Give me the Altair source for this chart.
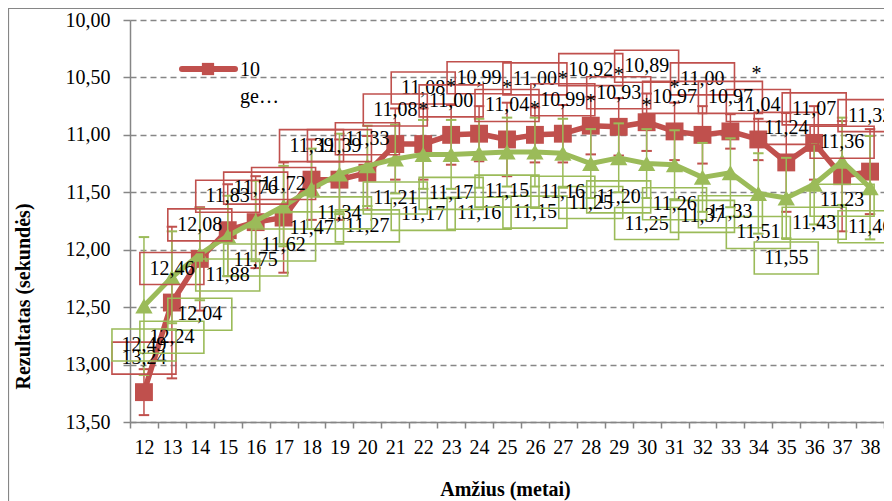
import altair as alt
import pandas as pd

# ---------------- data ----------------
ages = list(range(12, 39))
red_vals = [13.24, 12.46, 12.08, 11.83, 11.76, 11.72, 11.39, 11.39, 11.33, 11.08,
            11.08, 11.00, 10.99, 11.04, 11.00, 10.99, 10.92, 10.93, 10.89, 10.97,
            11.00, 10.97, 11.04, 11.24, 11.07, 11.36, 11.32]
green_vals = [12.49, 12.24, 12.04, 11.88, 11.75, 11.62, 11.47, 11.34, 11.27, 11.21,
              11.17, 11.17, 11.16, 11.15, 11.15, 11.16, 11.25, 11.20, 11.25, 11.26,
              11.37, 11.33, 11.51, 11.55, 11.43, 11.23, 11.46]
red_err = [0.20, 0.66, 0.45, 0.40, 0.40, 0.48, 0.35, 0.35, 0.32, 0.31,
           0.31, 0.26, 0.24, 0.32, 0.24, 0.25, 0.25, 0.25, 0.25, 0.25,
           0.25, 0.15, 0.18, 0.43, 0.32, 0.48, 0.37]
green_err = [0.60, 0.40, 0.40, 0.35, 0.35, 0.35, 0.35, 0.35, 0.35, 0.30,
             0.30, 0.30, 0.30, 0.30, 0.30, 0.30, 0.30, 0.30, 0.30, 0.30,
             0.30, 0.30, 0.35, 0.35, 0.35, 0.38, 0.45]
sig_ages = [23, 24, 26, 27, 28, 29, 30, 31, 32, 33]
legend_text = ["10", "ge…"]
y_ticks = [10.0, 10.5, 11.0, 11.5, 12.0, 12.5, 13.0, 13.5]

# ---------------- layout / style ----------------
RED = "#C0504D"
GREEN = "#9BBB59"
GRAY = "#868686"
SERIF = "Liberation Serif"
RED_HIGH_ROW = {22, 24, 26, 28, 30, 32, 38}
GREEN_LOW_ROW = {13, 14, 20, 22, 24, 26, 30, 35}
W = 754
STEP = W / 27

df = pd.DataFrame({"age": ages, "red": red_vals, "green": green_vals,
                   "red_err": red_err, "green_err": green_err})
df["red_lo"] = df["red"] - df["red_err"]
df["red_hi"] = df["red"] + df["red_err"]
df["green_lo"] = df["green"] - df["green_err"]
df["green_hi"] = df["green"] + df["green_err"]
df["red_txt"] = df["red"].map(lambda v: f"{v:.2f}".replace(".", ","))
df["green_txt"] = df["green"].map(lambda v: f"{v:.2f}".replace(".", ","))
df["star"] = "*"

xscale = alt.Scale(domain=[11.5, 38.5], nice=False, zero=False)
yscale = alt.Scale(domain=[10, 13.5], reverse=True, nice=False, zero=False)

x_axis = alt.Axis(
    values=[11.5 + i for i in range(28)],
    labelExpr="datum.value < 38 ? format(datum.value + 0.5, 'd') : ''",
    labelOffset=STEP / 2, labelFlush=False, labelOverlap=False, labelBound=False,
    tickSize=6, tickColor=GRAY, tickWidth=1.5,
    domainColor=GRAY, domainWidth=1.5, grid=False,
    labelPadding=9, labelFont=SERIF, labelFontSize=20, labelColor="black",
    title="Amžius (metai)", titleFont=SERIF, titleFontSize=20,
    titleFontWeight="bold", titleColor="black",
    titleX=375, titleY=67, titleBaseline="middle",
)
y_axis = alt.Axis(
    values=y_ticks,
    labelExpr="replace(format(datum.value, '.2f'), '.', ',')",
    tickSize=7, tickColor=GRAY, tickWidth=1.5,
    domainColor=GRAY, domainWidth=1.5,
    grid=True, gridDash=[6, 4], gridColor=GRAY, gridWidth=1.5,
    labelPadding=13, labelFont=SERIF, labelFontSize=20, labelColor="black",
    title="Rezultatas (sekundės)", titleFont=SERIF, titleFontSize=20,
    titleFontWeight="bold", titleColor="black",
    titleX=-107, titleY=276, titleBaseline="middle",
)


def X():
    return alt.X("age:Q", scale=xscale, axis=x_axis)


def Y(field):
    return alt.Y(f"{field}:Q", scale=yscale, axis=y_axis)


def box_path(dy):
    a = (dy - 16) / 10
    b = (dy + 16) / 10
    return f"M-3.2,{a}L3.2,{a}L3.2,{b}L-3.2,{b}Z"


layers = []
dummy = pd.DataFrame({"k": [0]})

# chart border
layers.append(alt.Chart(dummy).mark_rect(filled=False, color=GRAY, strokeWidth=1.2).encode(
    x=alt.value(-121.5), x2=alt.value(900), y=alt.value(-11.5), y2=alt.value(600)))


def series_layers(col, color, shape, size, lw):
    out = []
    base = alt.Chart(df)
    out.append(base.mark_rule(color=color, strokeWidth=1.5).encode(
        x=X(), y=Y(f"{col}_lo"), y2=f"{col}_hi:Q"))
    for end in ("lo", "hi"):
        out.append(base.mark_point(shape="stroke", size=110, strokeWidth=2,
                                   color=color, opacity=1).encode(
            x=X(), y=Y(f"{col}_{end}")))
    out.append(base.mark_line(color=color, strokeWidth=lw, strokeJoin="round").encode(
        x=X(), y=Y(col)))
    out.append(base.mark_point(shape=shape, size=size, filled=True,
                               color=color, opacity=1).encode(
        x=X(), y=Y(col)))
    return out


layers += series_layers("red", RED, "square", 320, 5.5)
layers += series_layers("green", GREEN, "triangle-up", 300, 5)


def label_layers(col, color, mask, dy):
    sub = df[mask]
    return [
        alt.Chart(sub).mark_point(shape=box_path(dy), size=400, filled=False,
                                  stroke=color, strokeWidth=1.6, opacity=1).encode(
            x=X(), y=Y(col)),
        alt.Chart(sub).mark_text(dy=dy, font=SERIF, fontSize=20, color="black",
                                 baseline="middle", align="center").encode(
            x=X(), y=Y(col), text=f"{col}_txt:N"),
    ]


red_high = df["age"].isin(RED_HIGH_ROW)
green_low = df["age"].isin(GREEN_LOW_ROW)
layers += label_layers("red", RED, red_high, -56)
layers += label_layers("red", RED, ~red_high, -34)
layers += label_layers("green", GREEN, green_low, 60)
layers += label_layers("green", GREEN, ~green_low, 39)

# significance asterisks
sig = df[df["age"].isin(sig_ages)]
for mask, dx, dy in [
    (sig["age"].isin(RED_HIGH_ROW) & (sig["age"] != 33), -28, -56 + 9),
    (~sig["age"].isin(RED_HIGH_ROW) & (sig["age"] != 33), -28, -34 + 9),
    (sig["age"] == 33, 26, -56 + 9 - 10),
]:
    layers.append(alt.Chart(sig[mask]).mark_text(
        dx=dx, dy=dy, font=SERIF, fontSize=20, color="black",
        baseline="middle", align="center").encode(x=X(), y=Y("red"), text="star:N"))

# legend (single visible entry)
layers.append(alt.Chart(dummy).mark_rule(color=RED, strokeWidth=6, strokeCap="round").encode(
    x=alt.value(52), x2=alt.value(105), y=alt.value(49)))
layers.append(alt.Chart(dummy).mark_point(shape="square", size=150, filled=True,
                                          color=RED, opacity=1).encode(
    x=alt.value(78), y=alt.value(49)))
layers.append(alt.Chart(dummy).mark_text(font=SERIF, fontSize=20, color="black",
                                         align="left", baseline="middle").encode(
    x=alt.value(110), y=alt.value(50), text=alt.value(legend_text[0])))
layers.append(alt.Chart(dummy).mark_text(font=SERIF, fontSize=20, color="black",
                                         align="left", baseline="middle").encode(
    x=alt.value(110), y=alt.value(77), text=alt.value(legend_text[1])))

chart = alt.layer(*layers).properties(
    width=W, height=402,
    autosize=alt.AutoSizeParams(type="none"),
    padding={"left": 122, "top": 12, "right": 0, "bottom": 79},
).configure_view(stroke=None)

chart.save("out.html", embed_options={"renderer": "svg", "actions": False})
